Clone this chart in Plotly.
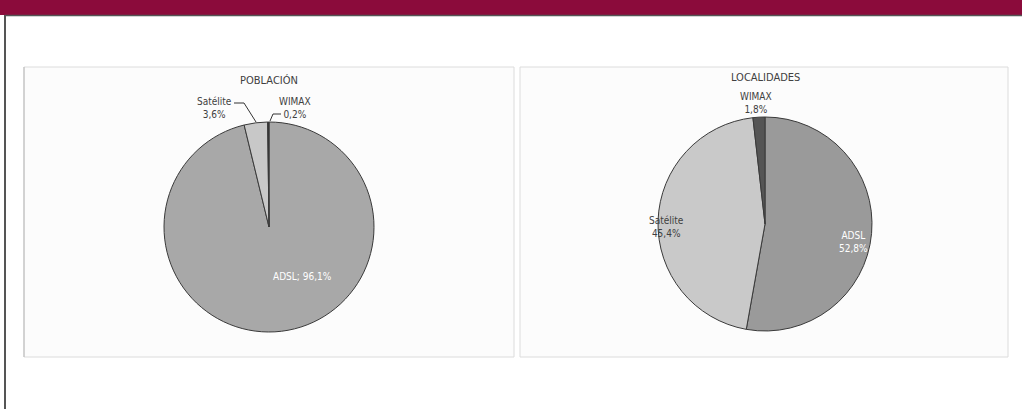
import plotly.graph_objects as go

W, H = 1022, 409

# Data
labels = ["ADSL", "Satélite", "WIMAX"]
poblacion = [96.1, 3.6, 0.2]
localidades = [52.8, 45.4, 1.8]
titles = ["POBLACIÓN", "LOCALIDADES"]

colors_pob = ["#a8a8a8", "#c8c8c8", "#2e2e2e"]
colors_loc = ["#9a9a9a", "#c9c9c9", "#555555"]

FONT = "Liberation Sans Narrow, Arial Narrow, DejaVu Sans Condensed, sans-serif"


def px(x, y):
    return x / W, 1 - y / H


def pie_domain(cx, cy, r):
    return dict(x=[(cx - r) / W, (cx + r) / W], y=[1 - (cy + r) / H, 1 - (cy - r) / H])


def pct(v):
    return f"{v:.1f}%".replace(".", ",")


fig = go.Figure()

fig.add_trace(go.Pie(
    labels=labels, values=poblacion, sort=False, direction="clockwise", rotation=0,
    marker=dict(colors=colors_pob, line=dict(color="#3a3a3a", width=1)),
    textinfo="none", hoverinfo="label+percent", showlegend=False,
    domain=pie_domain(269, 227, 105),
))
fig.add_trace(go.Pie(
    labels=labels, values=localidades, sort=False, direction="clockwise", rotation=0,
    marker=dict(colors=colors_loc, line=dict(color="#3a3a3a", width=1)),
    textinfo="none", hoverinfo="label+percent", showlegend=False,
    domain=pie_domain(765, 224, 107),
))

shapes = []
# header band and frame
shapes.append(dict(type="rect", xref="paper", yref="paper", x0=0, x1=1, y0=px(0, 15)[1], y1=1,
                   fillcolor="#8b0b3b", line_width=0, layer="below"))
shapes.append(dict(type="line", xref="paper", yref="paper", x0=px(5, 0)[0], x1=1,
                   y0=px(0, 15.5)[1], y1=px(0, 15.5)[1], line=dict(color="#555555", width=1.5)))
shapes.append(dict(type="line", xref="paper", yref="paper", x0=px(5, 0)[0], x1=px(5, 0)[0],
                   y0=0, y1=px(0, 15)[1], line=dict(color="#555555", width=2)))
# chart panels
for x0, x1 in [(24, 514), (520, 1008)]:
    shapes.append(dict(type="rect", xref="paper", yref="paper",
                       x0=px(x0, 0)[0], x1=px(x1, 0)[0], y0=px(0, 357)[1], y1=px(0, 67)[1],
                       fillcolor="#fcfcfc", line=dict(color="#dcdcdc", width=1), layer="below"))
shapes.append(dict(type="line", xref="paper", yref="paper", x0=px(24, 0)[0], x1=px(24, 0)[0],
                   y0=px(0, 357)[1], y1=px(0, 67)[1], line=dict(color="#b8b8b8", width=1)))


# leader lines for small slices of POBLACIÓN
def leader(points):
    p = [px(x, y) for x, y in points]
    d = "M " + " L ".join(f"{a},{b}" for a, b in p)
    return dict(type="path", xref="paper", yref="paper", path=d,
                line=dict(color="#333333", width=1))


shapes.append(leader([(234, 103), (244, 103), (256, 122)]))
shapes.append(leader([(281, 114), (273, 114), (270, 121)]))

annotations = []


def label(x, y, text, color="#404040", size=10):
    ax_, ay_ = px(x, y)
    annotations.append(dict(x=ax_, y=ay_, xref="paper", yref="paper", text=text, showarrow=False,
                            xanchor="center", yanchor="middle",
                            font=dict(family=FONT, size=size, color=color), align="center"))


label(269, 81, titles[0], size=11)
label(765, 77, titles[1], size=11)

label(302, 276, f"{labels[0]}; {pct(poblacion[0])}", color="#ffffff")
label(214, 108, f"{labels[1]}<br>{pct(poblacion[1])}")
label(295, 108, f"{labels[2]}<br>{pct(poblacion[2])}")

label(853, 242, f"{labels[0]}<br>{pct(localidades[0])}", color="#ffffff")
label(666, 227, f"{labels[1]}<br>{pct(localidades[1])}")
label(756, 103, f"{labels[2]}<br>{pct(localidades[2])}")

fig.update_layout(
    width=W, height=H, margin=dict(l=0, r=0, t=0, b=0),
    paper_bgcolor="white", plot_bgcolor="white",
    shapes=shapes, annotations=annotations,
    font=dict(family=FONT),
)

fig.write_html("out.html", config={"displayModeBar": False},
               post_script="document.body.style.margin='0';document.body.style.overflow='hidden';")
